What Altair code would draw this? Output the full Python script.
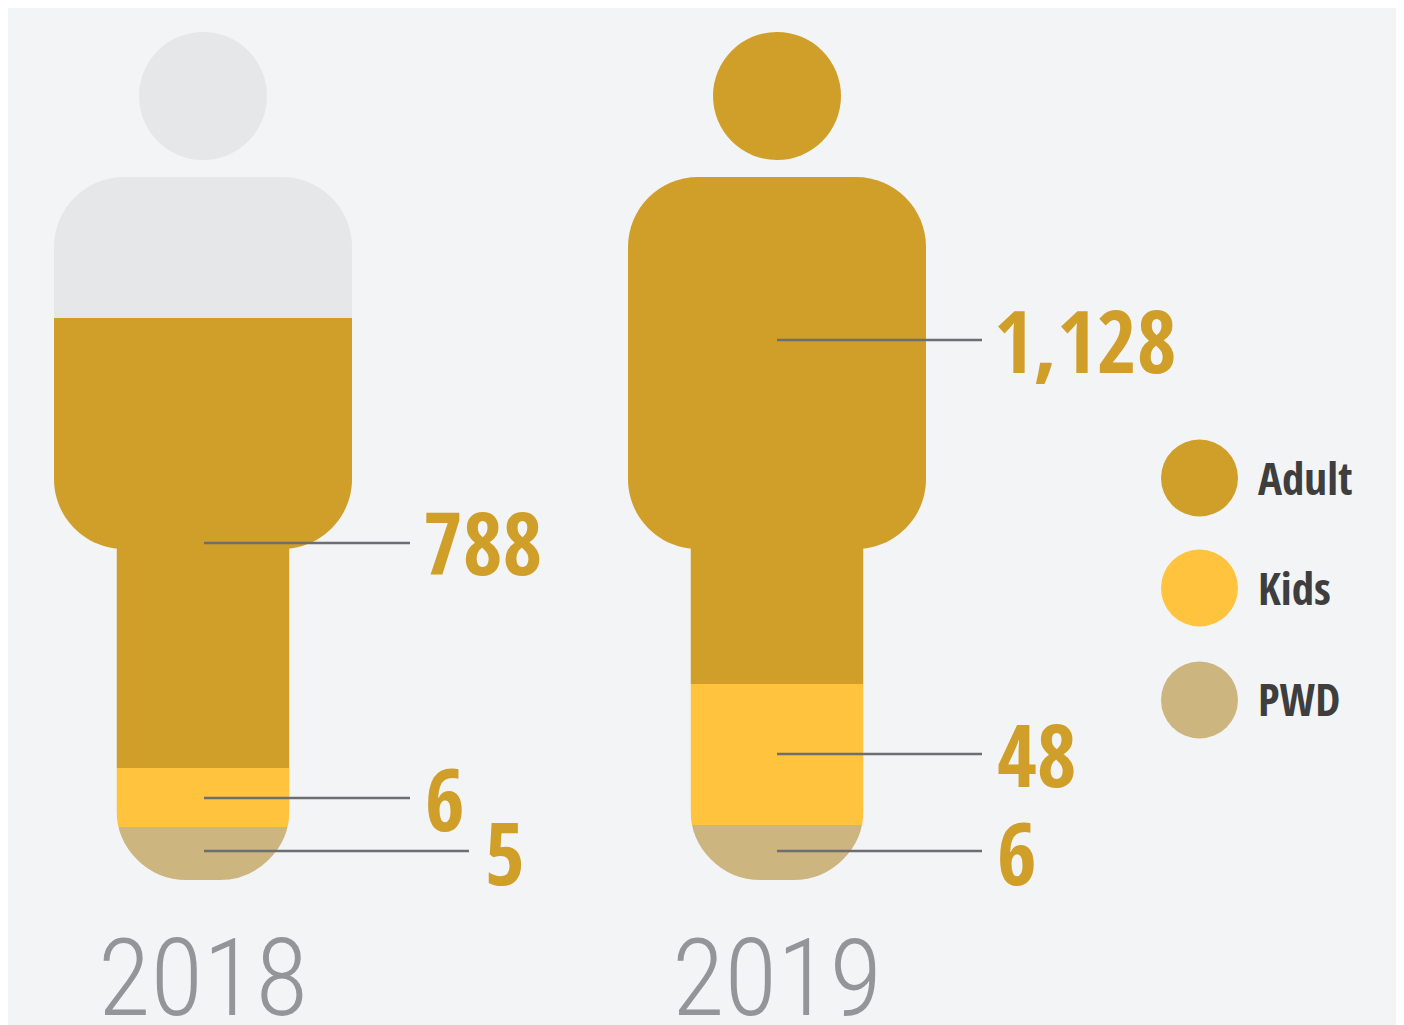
import altair as alt
import pandas as pd

# ---- chart content ----
years = ["2018", "2019"]
categories = ["Adult", "Kids", "PWD"]
adult_values = ["788", "1,128"]
kids_values = ["6", "48"]
pwd_values = ["5", "6"]

# fill levels on the vertical figure scale
adult_top = [318, 177]
kids_top = [768, 684]
pwd_top = [827, 825]
adult_label_level = [543, 340]
kids_label_level = [798, 754]
pwd_label_level = [851, 851]

# ---- figure geometry ----
W, H = 1388, 1017
OFFSET = 8
centers = [203, 777]
FIG_TOP, WAIST, FOOT = 177, 549, 880
SHOULDER, HIP = 149, 86.5
R = 70
MASK = 32

BG = "#f2f4f6"
GREY = "#e6e7e9"
COLORS = dict(zip(categories, ["#d09f29", "#ffc33e", "#cdb580"]))
BOLD_FONT = "Open Sans Condensed"
LIGHT_FONT = "Roboto Condensed"

xs = alt.Scale(domain=[OFFSET, OFFSET + W], range=[0, W])
ys = alt.Scale(domain=[OFFSET, OFFSET + H], range=[0, H])
X = lambda f: alt.X(f, type="quantitative", scale=xs, axis=None)
Y = lambda f: alt.Y(f, type="quantitative", scale=ys, axis=None)
X2 = lambda f: alt.X2(f)
Y2 = lambda f: alt.Y2(f)


def bars(rows, color, **kw):
    df = pd.DataFrame(rows, columns=["x0", "x1", "y0", "y1"])
    return alt.Chart(df).mark_bar(color=color, **kw).encode(
        x=X("x0"), x2=X2("x1"), y=Y("y0"), y2=Y2("y1")
    )


layers = []

# lower body: stacked square segments
layers.append(bars([(c - HIP, c + HIP, WAIST - 20, k) for c, k in zip(centers, kids_top)], COLORS["Adult"]))
layers.append(bars([(c - HIP, c + HIP, k, p) for c, k, p in zip(centers, kids_top, pwd_top)], COLORS["Kids"]))
layers.append(bars([(c - HIP, c + HIP, p, FOOT + 1) for c, p in zip(centers, pwd_top)], COLORS["PWD"]))

# background-coloured outline that rounds the foot of all segments at once
layers.append(
    bars(
        [(c - HIP - MASK / 2, c + HIP + MASK / 2, 500, FOOT + MASK / 2) for c in centers],
        BG,
        fillOpacity=0,
        stroke=BG,
        strokeWidth=MASK,
        cornerRadiusBottomLeft=R + MASK / 2,
        cornerRadiusBottomRight=R + MASK / 2,
    )
)

# upper body
grey_rows = [(c - SHOULDER, c + SHOULDER, FIG_TOP, a) for c, a in zip(centers, adult_top) if a > FIG_TOP]
layers.append(bars(grey_rows, GREY, cornerRadiusTopLeft=R, cornerRadiusTopRight=R))
for c, a in zip(centers, adult_top):
    round_top = R if a == FIG_TOP else 0
    layers.append(
        bars(
            [(c - SHOULDER, c + SHOULDER, a, WAIST)],
            COLORS["Adult"],
            cornerRadiusBottomLeft=R,
            cornerRadiusBottomRight=R,
            cornerRadiusTopLeft=round_top,
            cornerRadiusTopRight=round_top,
        )
    )

# heads
head_df = pd.DataFrame({"x": centers, "y": [96, 96], "c": [GREY, COLORS["Adult"]]})
layers.append(
    alt.Chart(head_df).mark_circle(size=128**2, opacity=1).encode(
        x=X("x"), y=Y("y"), color=alt.Color("c:N", scale=None)
    )
)

# leader lines and values
rule_rows = [
    (204, 410, adult_label_level[0]),
    (204, 410, kids_label_level[0]),
    (204, 469, pwd_label_level[0]),
    (centers[1], 982, adult_label_level[1]),
    (centers[1], 982, kids_label_level[1]),
    (centers[1], 982, pwd_label_level[1]),
]
rule_df = pd.DataFrame(rule_rows, columns=["x0", "x1", "y"])
layers.append(
    alt.Chart(rule_df).mark_rule(color="#6d6e71", strokeWidth=2.5).encode(x=X("x0"), x2=X2("x1"), y=Y("y"))
)

value_df = pd.DataFrame(
    {
        "t": adult_values + kids_values + pwd_values,
        "x": [423, 994, 425, 997, 485, 997],
        "y": [575, 373, 831, 787, 885, 885],
    }
)
layers.append(
    alt.Chart(value_df)
    .mark_text(font=BOLD_FONT, fontWeight="bold", fontSize=86, color=COLORS["Adult"], align="left", baseline="alphabetic")
    .encode(x=X("x"), y=Y("y"), text="t:N")
)

# year labels
year_df = pd.DataFrame({"t": years, "x": centers, "y": [1015, 1015]})
layers.append(
    alt.Chart(year_df)
    .mark_text(font=LIGHT_FONT, fontWeight=300, fontSize=108, color="#939598", align="center", baseline="alphabetic")
    .encode(x=X("x"), y=Y("y"), text="t:N")
)

# legend
legend_df = pd.DataFrame(
    {"t": categories, "c": [COLORS[k] for k in categories], "y": [478, 588, 700], "x": [1199.5] * 3, "tx": [1258] * 3, "ty": [495, 605, 716]}
)
layers.append(
    alt.Chart(legend_df).mark_circle(size=77**2, opacity=1).encode(
        x=X("x"), y=Y("y"), color=alt.Color("c:N", scale=None)
    )
)
layers.append(
    alt.Chart(legend_df)
    .mark_text(font=BOLD_FONT, fontWeight="bold", fontSize=45, color="#3e3e3e", align="left", baseline="alphabetic")
    .encode(x=X("tx"), y=Y("ty"), text="t:N")
)

chart = (
    alt.layer(*layers)
    .properties(width=W, height=H, background=BG, padding=0)
    .configure_view(stroke=None, fill=BG)
)
chart.save("out.html", embed_options={"renderer": "svg", "actions": False})
